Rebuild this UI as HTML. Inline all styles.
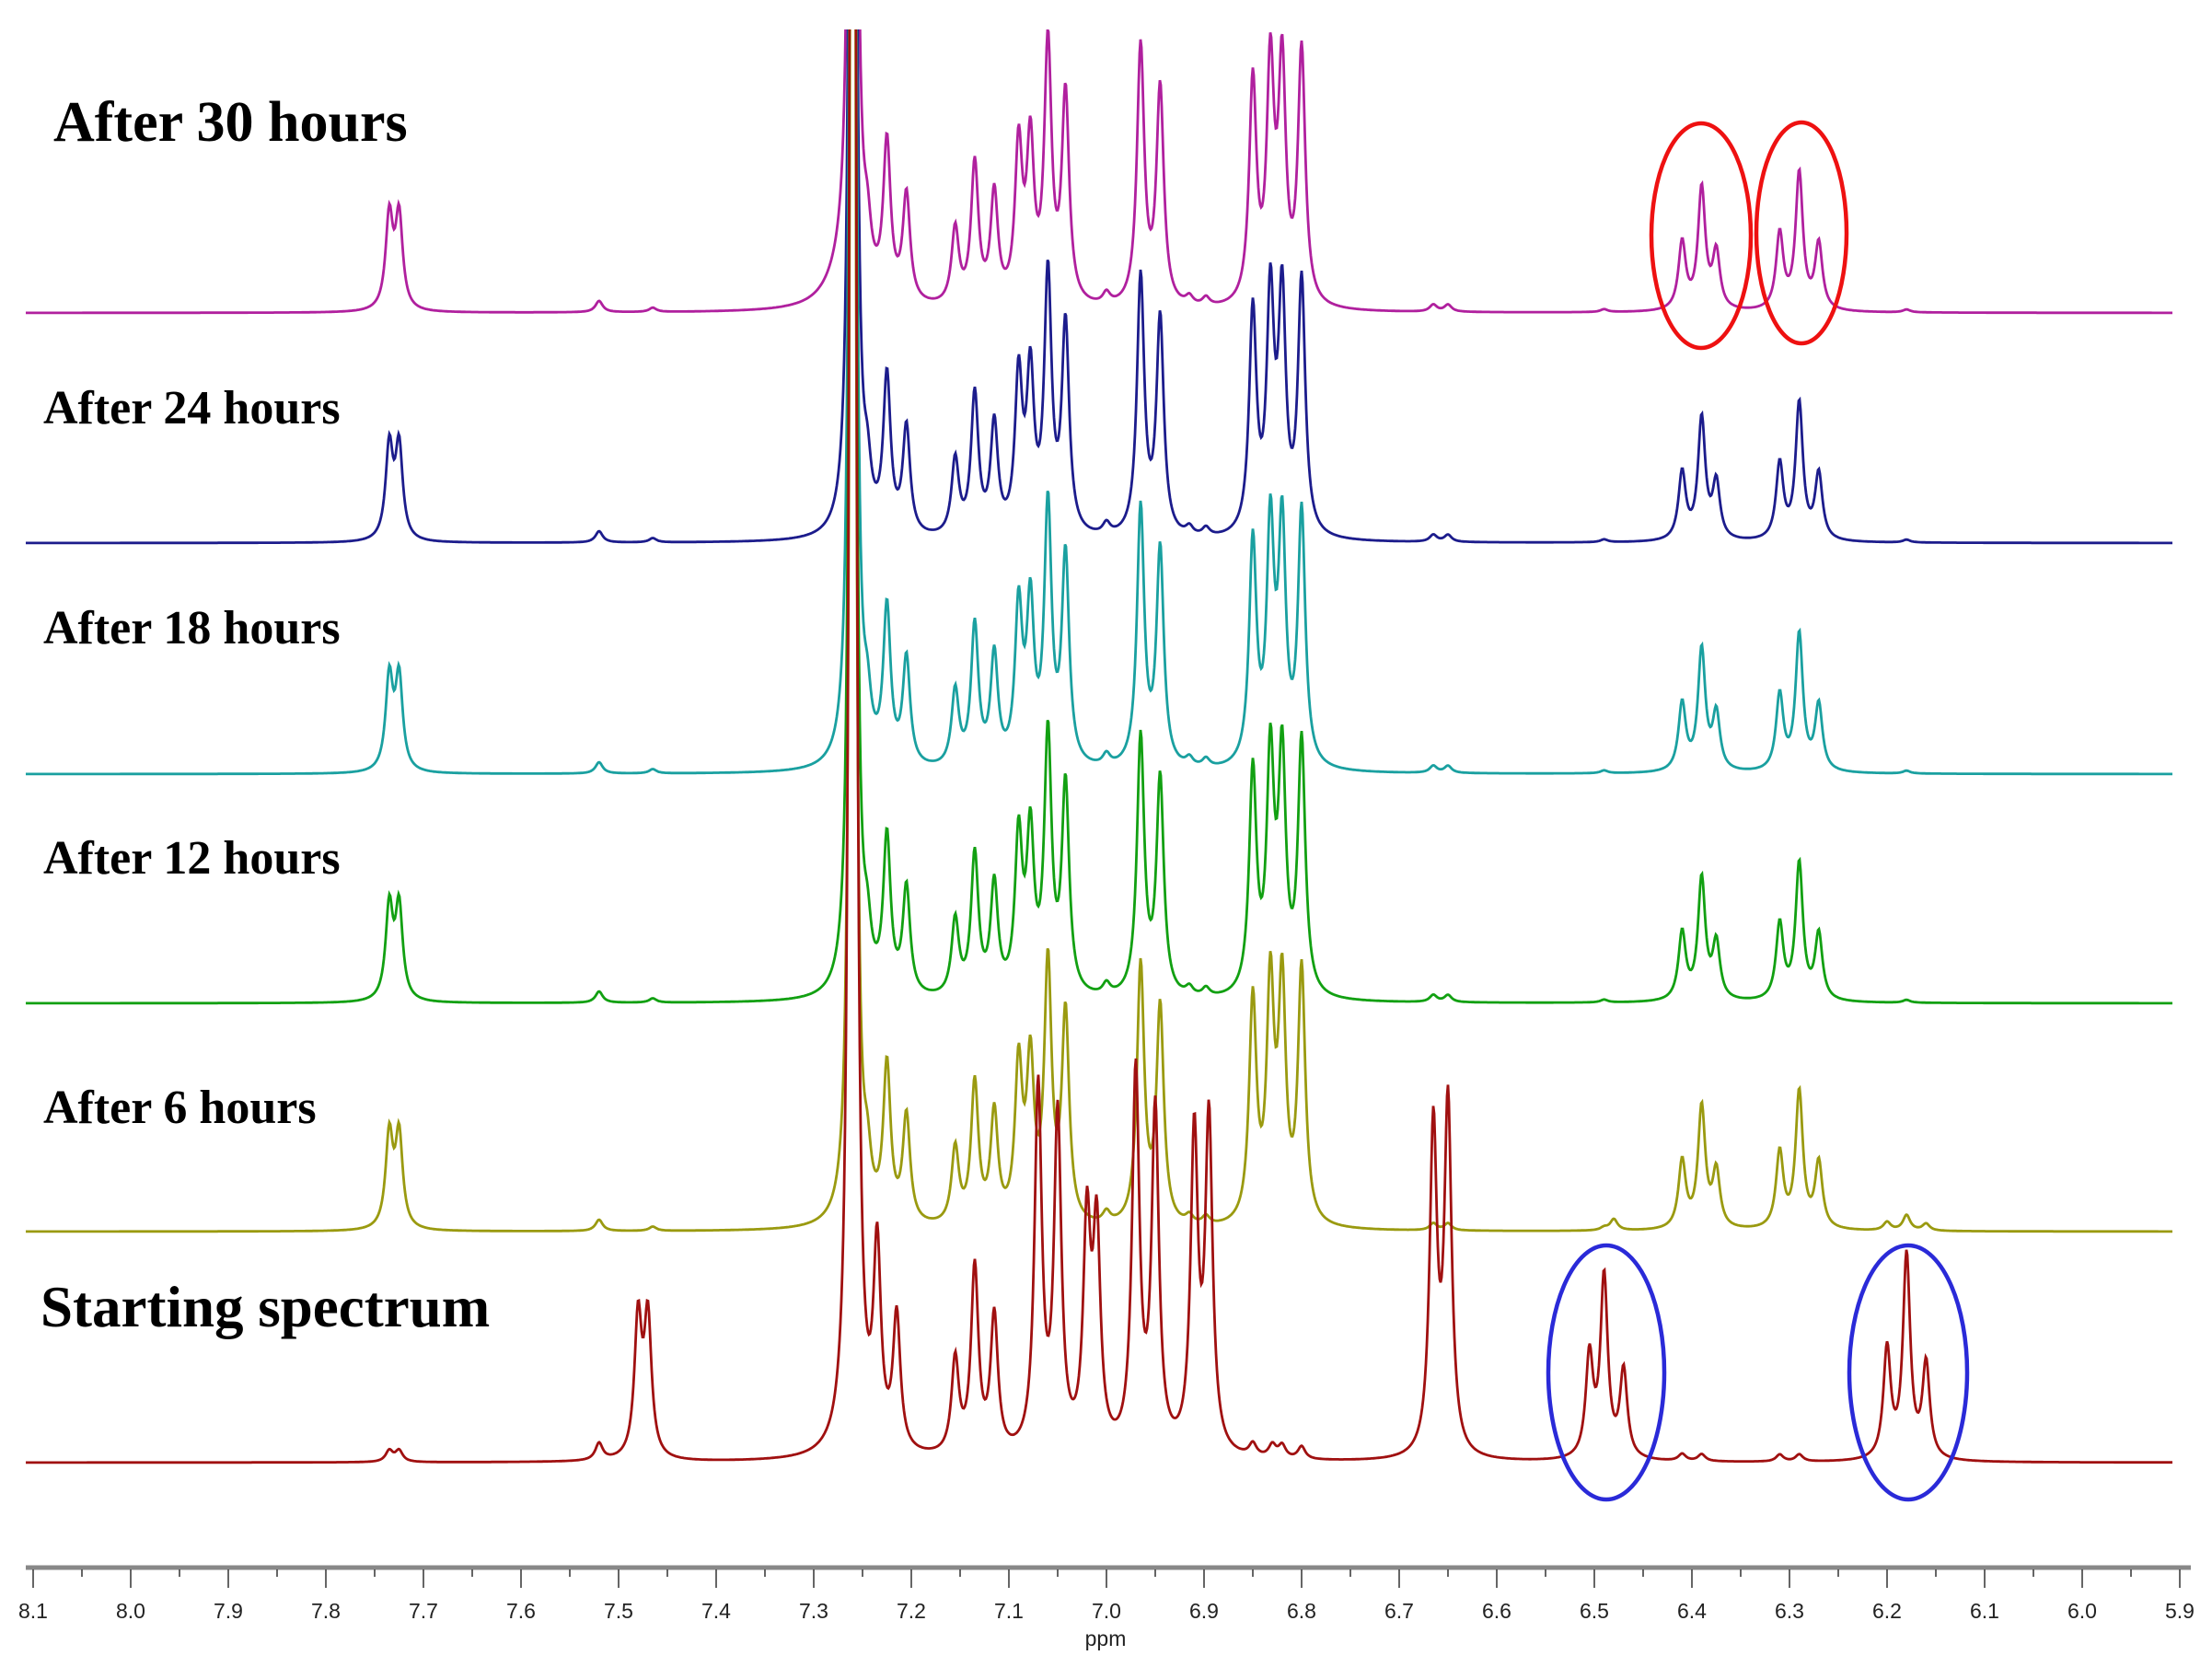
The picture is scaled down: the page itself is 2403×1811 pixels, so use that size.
<!DOCTYPE html>
<html><head><meta charset="utf-8"><style>
html,body{margin:0;padding:0;background:#fff}
svg{display:block}
.lb{font-family:"Liberation Serif",serif;font-weight:bold;fill:#000}
.tk{font-family:"Liberation Sans",sans-serif;font-size:23px;fill:#222;text-anchor:middle}
</style></head><body>
<svg id="s" width="2403" height="1811" viewBox="0 0 2403 1811" xmlns="http://www.w3.org/2000/svg">
<defs><clipPath id="c"><rect x="0" y="32" width="2403" height="1700"/></clipPath></defs>
<g id="sp" clip-path="url(#c)"></g>
<text class="lb" x="58" y="153" font-size="62">After 30 hours</text>
<text class="lb" x="47" y="460" font-size="52">After 24 hours</text>
<text class="lb" x="47" y="699" font-size="52">After 18 hours</text>
<text class="lb" x="47" y="949" font-size="52">After 12 hours</text>
<text class="lb" x="47" y="1220" font-size="52">After 6 hours</text>
<text class="lb" x="44" y="1441" font-size="63">Starting spectrum</text>
<g fill="none" stroke-width="4.5">
<ellipse cx="1848" cy="256" rx="54" ry="122" stroke="#ee1111"/>
<ellipse cx="1957" cy="253" rx="49" ry="120" stroke="#ee1111"/>
<ellipse cx="1745" cy="1491" rx="63" ry="138" stroke="#2a2ad8"/>
<ellipse cx="2073" cy="1491" rx="64" ry="138" stroke="#2a2ad8"/>
</g>
<g id="ax"></g>
<text class="tk" x="1201" y="1788" font-size="22">ppm</text>
</svg>
<script>
const X=p=>142+(8.0-p)*1060;
const common=[[7.735,66],[7.725,66],[7.52,8],[7.465,3],[7.245,32],[7.225,110],[7.205,76],[7.155,54],[7.135,100],[7.115,78],[7.09,110],[7.078,110],[7.06,182],[7.042,148],[7.0,8],[6.965,184],[6.945,154],[6.915,6],[6.898,6],[6.85,158],[6.832,165],[6.82,165],[6.80,180],[6.665,5],[6.65,5],[6.41,48],[6.39,86],[6.375,40],[6.31,54],[6.29,97],[6.27,47],[6.49,2],[6.18,2]];
const red=[[7.735,8],[7.725,8],[7.52,12],[7.48,98],[7.47,98],[7.235,140],[7.215,95],[7.155,67],[7.135,132],[7.115,97],[7.07,258],[7.05,236],[7.02,158],[7.01,152],[6.97,268],[6.95,240],[6.91,224],[6.895,235],[6.85,9],[6.83,9],[6.82,9],[6.80,9],[6.665,232],[6.65,248],[6.505,72],[6.49,128],[6.47,62],[6.41,5],[6.39,5],[6.31,5],[6.29,5],[6.2,78],[6.18,144],[6.16,67]];
const S=1.5325;
function path(base,peaks,solv,hump){
 let d='';
 for(let x=28;x<=2360;x+=1){
  const p=8.0-(x-142)/1060;let y=0;
  for(const [c,h] of peaks){const g=0.0045,dx=p-c;y+=h*S*g*g/(dx*dx+g*g);}
  const g2=0.002,dx2=p-7.26;y+=solv*g2*g2/(dx2*dx2+g2*g2);
  if(hump){const dx3=p-7.27;y+=hump*0.02*0.02/(dx3*dx3+0.02*0.02);}
  d+=(x==28?'M':'L')+x+' '+(base-y).toFixed(1);
 }
 return d;
}
const sets=[[340,'#b0209e',common,4000,30],[590,'#1c1c8c',common,4000,0],[841,'#1aa0a0',common,4000,0],[1090,'#12a012',common,4000,0],[1338,'#9a9a10',common.concat([[6.48,8],[6.2,6],[6.18,9],[6.16,5]]),4000,0],[1589,'#a01010',red,6000,0]];
let h='';
for(const [b,c,pk,sv,hu] of sets)h+=`<path d="${path(b,pk,sv,hu)}" fill="none" stroke="${c}" stroke-width="2.8"/>`;
document.getElementById('sp').innerHTML=h;
let a='<line x1="28" y1="1703" x2="2380" y2="1703" stroke="#888" stroke-width="5"/>';
for(let i=0;i<=44;i++){const p=8.1-i*0.05;const x=X(p);if(x<26||x>2382)continue;
 const maj=i%2==0;a+=`<line x1="${x}" y1="1705" x2="${x}" y2="${maj?1725:1713}" stroke="#333" stroke-width="1.5"/>`;
 if(maj)a+=`<text class="tk" x="${x}" y="1758">${p.toFixed(1)}</text>`;}
document.getElementById('ax').innerHTML=a;
</script>
</body></html>
